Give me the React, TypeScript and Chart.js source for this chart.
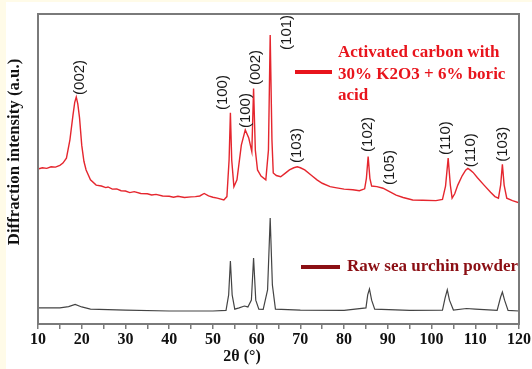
import React, { useEffect, useRef } from "react";
import { Chart, registerables } from "chart.js";
Chart.register(...registerables);

// Activated carbon (red) series
const redX = [10, 11, 12, 13, 14, 15, 15.7, 16.5, 17.3, 18.0, 18.4, 18.75, 19.1, 19.5, 20.0, 20.5, 21, 22, 23.3, 24.5, 25.5, 26, 27, 28, 29, 30, 31, 32, 33.5, 35, 36, 37, 38.5, 40, 41, 42, 43.5, 45, 46, 47, 48, 49, 50, 51, 52.5, 53.2, 53.7, 54.0, 54.3, 54.8, 55.5, 56.5, 57.4, 58.2, 58.9, 59.3, 59.7, 60.2, 61, 62.1, 62.7, 63.1, 63.5, 63.8, 64.5, 65.5, 66.5, 67.5, 68.5, 69.3, 70, 71, 72.5, 73.8, 75, 76.8, 78, 80, 82, 83.5, 84.7, 85.1, 85.5, 85.9, 86.3, 87.5, 88.9, 90.5, 91.9, 93.5, 95.7, 98, 101, 102.5, 103.2, 103.8, 104.3, 104.7, 105.3, 106, 107, 107.8, 108.3, 108.8, 109.5, 110.5, 112, 113.5, 114.5, 115.3, 115.8, 116.2, 116.6, 117.2, 118.5, 120];
const redY = [50.0, 50.4, 50.2, 50.7, 50.6, 51.2, 51.9, 53.5, 59.4, 67.4, 71.5, 73.2, 71.0, 66.5, 57.7, 52.5, 49.7, 46.5, 44.8, 44.5, 44.0, 44.2, 43.5, 43.6, 43.0, 42.9, 42.4, 42.7, 42.1, 42.0, 41.6, 41.8, 41.3, 41.2, 40.9, 41.2, 40.8, 41.0, 41.1, 41.3, 42.1, 41.3, 40.9, 40.6, 40.0, 41.1, 52.9, 68.1, 52.9, 44.3, 46.5, 57.7, 62.6, 60.0, 55.6, 76.0, 56.1, 49.7, 47.7, 46.5, 56.1, 93.2, 59.4, 48.7, 47.9, 47.5, 48.6, 49.7, 50.4, 50.7, 50.4, 49.7, 48.0, 46.5, 45.4, 44.3, 44.0, 43.5, 43.3, 43.0, 43.6, 47.0, 54.0, 47.0, 44.5, 44.3, 43.8, 42.6, 41.6, 40.8, 40.0, 39.9, 39.8, 40.2, 44.5, 53.5, 44.8, 40.6, 42.0, 44.8, 47.8, 49.6, 50.2, 49.7, 48.9, 47.2, 44.8, 42.5, 41.1, 40.6, 44.8, 51.5, 44.8, 40.6, 39.8, 39.1];

// Raw sea urchin powder (black) series
const rawX = [10, 15, 17, 18.5, 20, 22, 30, 40, 50, 53, 53.6, 54.0, 54.4, 55, 56, 57.2, 58, 58.8, 59.3, 59.8, 60.5, 61.5, 62.5, 63.1, 63.6, 64.3, 70, 80, 85, 85.4, 85.8, 86.3, 87, 95, 102.5, 103.1, 103.6, 104.1, 105, 108, 110, 115, 115.8, 116.2, 116.7, 117.5, 120];
const rawY = [5.2, 5.2, 5.6, 6.3, 5.5, 4.8, 4.5, 4.2, 4.2, 4.4, 9.4, 20.3, 9.4, 4.8, 5.2, 5.8, 5.5, 7.7, 21.3, 7.7, 4.8, 4.7, 11.0, 34.2, 12.6, 4.8, 4.5, 4.4, 5.2, 9.4, 11.3, 7.7, 4.8, 4.4, 4.5, 8.4, 11.0, 7.7, 4.5, 5.0, 4.8, 4.4, 8.7, 10.3, 7.7, 4.4, 4.2];

// Peak labels (Miller indices)
const peakLabels = ["(002)", "(100)", "(100)", "(002)", "(101)", "(103)", "(102)", "(105)", "(110)", "(110)", "(103)"];
const peakLabelX = [19.5, 52.3, 57.5, 59.8, 67.0, 69.3, 85.5, 90.4, 103.3, 108.9, 116.2];
const peakLabelY = [73.9, 69.0, 63.2, 77.1, 88.4, 51.9, 55.5, 44.8, 54.5, 50.6, 52.3];

const redLegend = ["Activated carbon with", "30% K2O3 + 6% boric", "acid"];
const rawLegend = "Raw sea urchin powder";
const xTitle = "2θ (°)";
const yTitle = "Diffraction intensity (a.u.)";

export default function App() {
  const ref = useRef<HTMLCanvasElement>(null);
  useEffect(() => {
    const bgPlugin = {
      id: "bg",
      beforeDraw(chart: any) {
        const { ctx, width, height } = chart;
        ctx.save();
        ctx.fillStyle = "#fffbe8";
        ctx.fillRect(0, 0, width, height);
        ctx.fillStyle = "#ffffff";
        ctx.fillRect(6, 2, width - 6, height - 2);
        ctx.restore();
      },
    };
    const decoPlugin = {
      id: "deco",
      afterDraw(chart: any) {
        const { ctx, chartArea: a, scales } = chart;
        const xs = scales.x, ys = scales.y;
        ctx.save();
        // frame
        ctx.strokeStyle = "#7a7a7a";
        ctx.lineWidth = 2;
        ctx.strokeRect(a.left, a.top, a.right - a.left, a.bottom - a.top);
        // peak labels
        ctx.fillStyle = "#1a1a1a";
        ctx.font = "15px 'Liberation Sans', Arial, sans-serif";
        ctx.textAlign = "left";
        ctx.textBaseline = "middle";
        peakLabels.forEach((t, i) => {
          const px = xs.getPixelForValue(peakLabelX[i]);
          const py = ys.getPixelForValue(peakLabelY[i]);
          ctx.save();
          ctx.translate(px, py);
          ctx.rotate(-Math.PI / 2);
          ctx.fillText(t, 0, 0);
          ctx.restore();
        });
        // legend: red
        ctx.font = "bold 17px 'Liberation Serif', 'Times New Roman', serif";
        ctx.textBaseline = "middle";
        ctx.fillStyle = "#e8141c";
        redLegend.forEach((t, i) => ctx.fillText(t, a.left + 300, a.top + 39 + i * 21.5));
        ctx.fillRect(a.left + 257, a.top + 56, 37, 4);
        // legend: raw
        ctx.fillStyle = "#8b0f14";
        ctx.fillText(rawLegend, a.left + 309, a.top + 253);
        ctx.fillRect(a.left + 263, a.top + 251, 39, 4);
        // axis titles
        ctx.fillStyle = "#111";
        ctx.font = "bold 16px 'Liberation Serif', 'Times New Roman', serif";
        ctx.textAlign = "center";
        ctx.fillText(xTitle, 242, 357);
        ctx.save();
        ctx.translate(15, 152);
        ctx.rotate(-Math.PI / 2);
        ctx.font = "bold 16.8px 'Liberation Serif', 'Times New Roman', serif";
        ctx.fillText(yTitle, 0, 0);
        ctx.restore();
        ctx.restore();
      },
    };
    const chart = new Chart(ref.current!, {
      type: "line",
      data: {
        datasets: [
          {
            label: "Activated carbon",
            data: redX.map((x, i) => ({ x, y: redY[i] })),
            borderColor: "#e5262e",
            borderWidth: 1.4,
            pointRadius: 0,
            tension: 0,
          },
          {
            label: "Raw",
            data: rawX.map((x, i) => ({ x, y: rawY[i] })),
            borderColor: "#444444",
            borderWidth: 1.2,
            pointRadius: 0,
            tension: 0,
          },
        ],
      },
      options: {
        responsive: false,
        animation: false,
        layout: { padding: { left: 38, top: 14, right: 8, bottom: 0 }, autoPadding: false } as any,
        plugins: { legend: { display: false }, tooltip: { enabled: false } },
        scales: {
          x: {
            type: "linear",
            min: 10,
            max: 120,
            border: { display: false },
            grid: { drawOnChartArea: false, drawTicks: true, tickLength: 5, color: "#7a7a7a", lineWidth: 1.5 },
            ticks: {
              stepSize: 5,
              autoSkip: false,
              maxRotation: 0,
              padding: 1,
              color: "#111",
              font: { family: "'Liberation Serif', 'Times New Roman', serif", size: 16, weight: "bold" },
              callback: (v: any) => (Number(v) % 10 === 0 ? String(v) : ""),
            },
            afterFit: (s: any) => { s.height = 45; },
          },
          y: { type: "linear", min: 0, max: 100, display: false },
        },
      },
      plugins: [bgPlugin, decoPlugin],
    } as any);
    return () => chart.destroy();
  }, []);
  return (
    <div style={{ position: "fixed", left: 0, top: 0, width: 532, height: 369 }}>
      <canvas ref={ref} width={532} height={369} style={{ display: "block", width: 532, height: 369 }} />
    </div>
  );
}
